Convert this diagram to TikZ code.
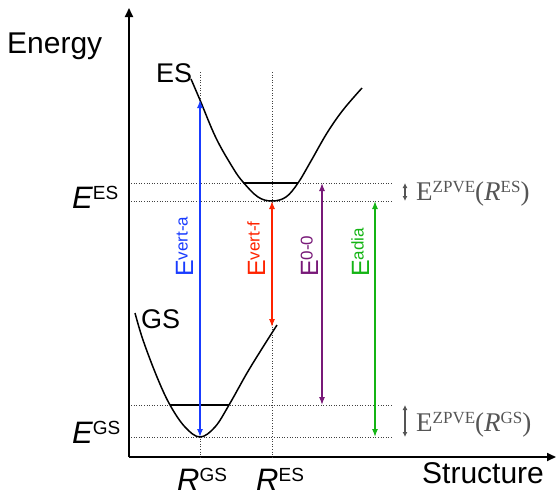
\documentclass[tikz,border=0pt]{standalone}
\usepackage{fontspec}
\setmainfont{Liberation Sans}
\newfontfamily\timesfont{Liberation Serif}
\usepackage{xcolor}
\usetikzlibrary{arrows.meta, positioning, calc}

\definecolor{vertablue}{RGB}{25,60,255}
\definecolor{vertfred}{RGB}{255,35,0}
\definecolor{zerozero}{RGB}{120,25,120}
\definecolor{adiagreen}{RGB}{20,180,20}
\definecolor{zpvegray}{RGB}{85,85,85}

\newcommand{\fsz}[1]{\fontsize{#1}{#1}\selectfont}
\newcommand{\bigsym}[2]{{\fsz{31}\itshape #1}\raisebox{8.5pt}{\fsz{19}#2}}
\newcommand{\arrlbl}[2]{{\fsz{25}#1}\raisebox{5.5pt}{\fsz{17}#2}}
\newcommand{\zpvelbl}[1]{{\timesfont\fsz{27}E\raisebox{7.5pt}{\fsz{17}ZPVE}(\textit{R}\raisebox{7.5pt}{\fsz{17}#1})}}

\tikzset{
  axis/.style={line width=1.7pt, -{Triangle[length=9pt,width=8pt]}},
  pes/.style={line width=1.5pt},
  guide/.style={line width=0.8pt, black!75, dash pattern=on 1pt off 1.6pt},
  trans/.style={line width=1.3pt, {Latex[length=8pt,width=6pt]}-{Latex[length=8pt,width=6pt]}},
  zpve/.style={line width=1.3pt, zpvegray, {Latex[length=5pt,width=5pt]}-{Latex[length=5pt,width=5pt]}},
  bigtext/.style={inner sep=0pt, font=\fsz{30}},
  vlabel/.style={inner sep=0pt, rotate=90, anchor=base west}
}

\begin{document}
\begin{tikzpicture}[x=1pt, y=-1pt]
\useasboundingbox (0,0) rectangle (557,496);

% axes
\coordinate (origin) at (129,457);
\coordinate (ytip) at (129,8);
\coordinate (xtip) at (556,457);
\draw[axis] (origin) -- (ytip);
\draw[axis] (origin) -- (xtip);
\node[bigtext, anchor=base west] (energy) at (7,53) {Energy};
\node[bigtext, anchor=base west] (structure) at (422,483) {Structure};

% levels
\coordinate (esvert) at (200,100);
\coordinate (esmin) at (272,201);
\coordinate (eszp) at (322,183);
\coordinate (gsvert) at (272,327);
\coordinate (gsmin) at (200,437);
\coordinate (gszp) at (322,405);
\coordinate (adtop) at (375,201);
\coordinate (adbot) at (375,437);
\coordinate (zpestop) at (405,183);
\coordinate (zpesbot) at (405,201);
\coordinate (zpgstop) at (405,405);
\coordinate (zpgsbot) at (405,437);

% guide lines
\draw[guide] (131,183) -- (392,183);
\draw[guide] (131,201) -- (392,201);
\draw[guide] (131,405) -- (392,405);
\draw[guide] (131,437) -- (392,437);
\draw[guide] (200,72) -- (200,457);
\draw[guide] (272,72) -- (272,457);

% potential curves
\draw[pes] plot[smooth, tension=0.6] coordinates {(191,79) (200,100) (216,138) (233,168) (243,182) (258,197) (272,201) (286,197) (298,183) (311,161) (327,133) (343,110) (362,88)};
\draw[pes] plot[smooth, tension=0.6] coordinates {(135,313) (143,340) (157,377) (170,405) (185,427) (200,437) (215,427) (229,405) (247,373) (263,347) (277,325)};
\draw[pes] (243,183) -- (298,183);
\draw[pes] (170,405) -- (229,405);
\node[inner sep=0pt, anchor=base west, font=\fsz{27}] (es) at (156,82) {ES};
\node[inner sep=0pt, anchor=base west, font=\fsz{27}] (gs) at (141,328) {GS};

% energy labels
\node[inner sep=0pt, anchor=base west] (ees) at (72,208) {\bigsym{E}{ES}};
\node[inner sep=0pt, anchor=base west] (egs) at (72,443) {\bigsym{E}{GS}};
\node[inner sep=0pt, anchor=base west] (rgs) at (177,490) {\bigsym{R}{GS}};
\node[inner sep=0pt, anchor=base west] (res) at (256,490) {\bigsym{R}{ES}};

% transitions
\draw[trans, vertablue] (gsmin) -- (esvert);
\draw[trans, vertfred] (esmin) -- (gsvert);
\draw[trans, zerozero] (eszp) -- (gszp);
\draw[trans, adiagreen] (adtop) -- (adbot);
\node[vlabel, vertablue] (lva) at (193,277) {\arrlbl{E}{vert-a}};
\node[vlabel, vertfred] (lvf) at (265,277) {\arrlbl{E}{vert-f}};
\node[vlabel, zerozero] (l00) at (318,277) {\arrlbl{E}{0-0}};
\node[vlabel, adiagreen] (lad) at (369,277) {\arrlbl{E}{adia}};

% zero-point energies
\draw[zpve] (zpestop) -- (zpesbot);
\draw[zpve] (zpgstop) -- (zpgsbot);
\node[inner sep=0pt, anchor=base west, zpvegray] (zpes) at (416,200) {\zpvelbl{ES}};
\node[inner sep=0pt, anchor=base west, zpvegray] (zpgs) at (416,431) {\zpvelbl{GS}};
\end{tikzpicture}
\end{document}
